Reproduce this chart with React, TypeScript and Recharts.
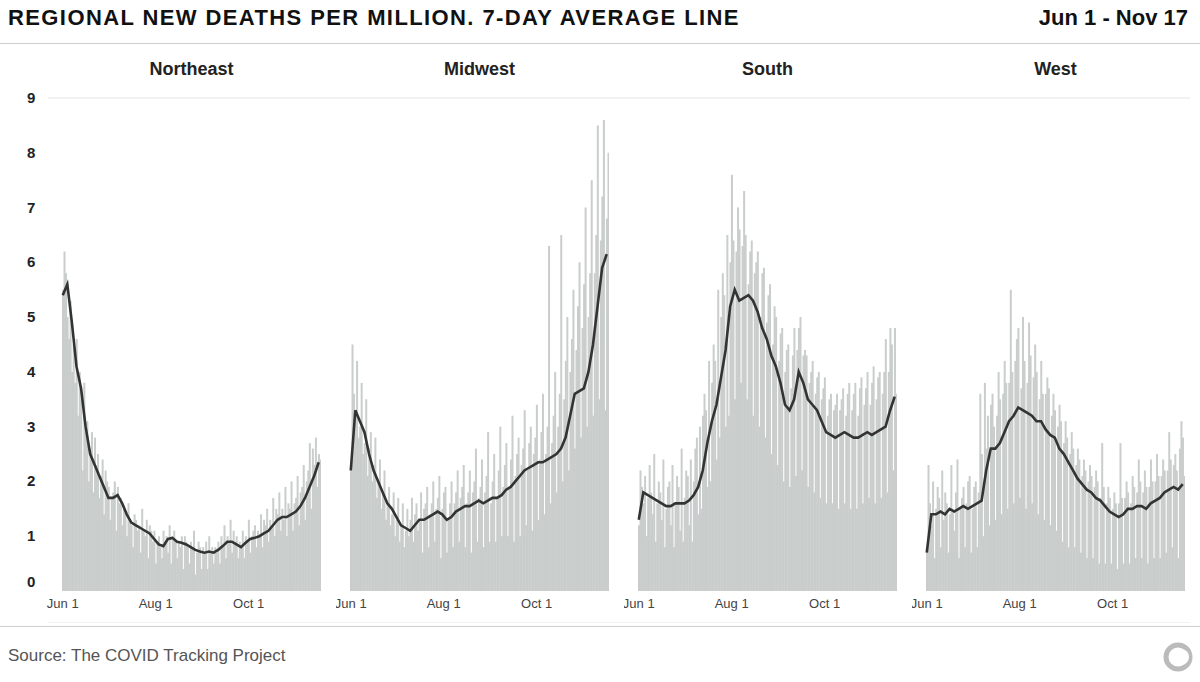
import React from "react";
import { ComposedChart, Bar, Line, XAxis, YAxis, CartesianGrid } from "recharts";

const regions = ["Northeast", "Midwest", "South", "West"];
const tickDays = [0, 61, 122];
const tickLabels = ["Jun 1", "Aug 1", "Oct 1"];
const yTicks = [0, 1, 2, 3, 4, 5, 6, 7, 8, 9];

// daily new deaths per million, Jun 1 .. Nov 17
const neDaily = [
  5.5, 6.2, 5.8, 5.0, 4.6, 5.3, 4.0, 4.5, 3.8, 4.6,
  3.2, 4.0, 3.5, 2.2, 3.8, 2.9, 3.1, 2.0, 2.6, 2.9,
  1.8, 2.8, 2.3, 2.5, 1.7, 2.1, 2.4, 1.4, 2.2, 2.0,
  1.9, 1.3, 1.7, 1.8, 2.0, 1.1, 1.9, 1.6, 1.7, 1.2,
  1.5, 1.4, 1.0, 1.6, 1.3, 1.2, 0.8, 1.4, 1.3, 1.1,
  1.2, 0.7, 1.5, 1.1, 1.0, 1.3, 0.6, 1.2, 1.1, 0.9,
  1.1, 0.5, 0.9, 1.0, 0.8, 0.6, 1.1, 0.9, 1.0, 0.7,
  1.2, 0.5, 1.0, 1.1, 0.9, 0.6, 0.9, 0.8, 1.0, 0.4,
  1.0, 0.9, 0.8, 0.5, 0.9, 0.8, 1.1, 0.3, 0.7, 0.9,
  0.8, 0.4, 0.8, 0.7, 0.9, 0.4, 1.0, 0.7, 0.8, 0.5,
  0.8, 0.7, 0.9, 0.5, 1.0, 0.8, 1.2, 0.6, 1.0, 0.9,
  1.3, 0.7, 1.1, 0.9, 1.0, 0.6, 0.9, 0.8, 1.1, 0.6,
  1.0, 0.9, 1.3, 0.7, 1.0, 1.1, 1.2, 0.8, 1.1, 1.0,
  1.4, 0.8, 1.3, 1.2, 1.5, 0.9, 1.3, 1.2, 1.7, 1.0,
  1.5, 1.4, 1.8, 1.1, 1.5, 1.3, 1.9, 1.0, 1.6, 1.5,
  2.0, 1.1, 1.6, 1.7, 2.1, 1.2, 1.8, 1.9, 2.3, 1.3,
  2.0, 2.2, 2.7, 1.5, 2.6, 2.3, 2.8, 1.9, 2.5, 2.4,
];
const mwDaily = [
  2.2, 4.5, 3.6, 3.2, 4.2, 2.8, 3.0, 3.8, 2.5, 2.7,
  3.5, 2.1, 2.6, 2.9, 2.0, 2.3, 2.8, 1.7, 2.0, 2.4,
  1.5, 1.8, 2.2, 1.3, 1.6, 1.9, 1.2, 1.4, 1.8, 1.0,
  1.3, 1.7, 0.9, 1.2, 1.6, 0.8, 1.1, 1.5, 1.0, 1.3,
  1.7, 0.9, 1.4, 1.6, 1.1, 1.3, 1.8, 0.7, 1.5, 1.6,
  1.9, 0.8, 1.4, 1.6, 2.0, 0.9, 1.5, 1.7, 2.1, 0.6,
  1.5, 1.8, 1.9, 0.7, 1.3, 1.6, 2.0, 0.8, 1.6, 1.8,
  2.2, 0.9, 1.7, 1.9, 2.3, 0.8, 1.6, 1.8, 2.2, 0.7,
  1.8, 2.0, 2.6, 0.9, 1.7, 1.9, 2.4, 0.8, 1.8, 2.1,
  2.9, 0.9, 1.6, 2.0, 2.5, 0.9, 1.7, 2.2, 3.0, 1.0,
  1.9, 2.3, 2.7, 1.0, 1.9, 2.4, 3.2, 0.9, 2.1, 2.5,
  2.8, 1.0, 2.3, 2.6, 3.3, 1.2, 2.2, 2.7, 3.0, 1.1,
  2.5, 2.8, 3.4, 1.3, 2.4, 2.9, 3.6, 1.4, 2.5, 3.0,
  6.3, 1.6, 2.7, 3.2, 4.0, 1.8, 3.0, 3.6, 6.5, 2.0,
  3.5, 4.2, 5.0, 2.2, 4.0, 4.6, 5.5, 2.6, 4.4, 5.2,
  6.0, 2.8, 4.8, 5.6, 7.0, 3.0, 5.0, 5.8, 7.5, 3.2,
  5.8, 6.5, 8.5, 3.5, 6.4, 7.2, 8.6, 3.3, 6.8, 8.0,
];
const soDaily = [
  1.2, 2.2, 1.9, 1.6, 2.1, 1.0, 1.7, 2.3, 1.8, 1.4,
  2.5, 0.9, 1.6, 2.0, 1.8, 1.3, 2.4, 0.8, 1.5, 1.9,
  2.0, 1.2, 2.3, 0.8, 1.6, 2.1, 1.9, 1.1, 2.6, 0.9,
  1.7, 2.2, 2.1, 1.2, 2.4, 0.9, 2.0, 2.6, 2.8, 1.4,
  3.0, 1.5, 3.2, 3.6, 3.3, 1.9, 4.2, 2.0, 3.8, 4.5,
  4.2, 2.4, 5.5, 2.8, 5.0, 5.8, 5.4, 3.0, 6.5, 3.2,
  6.0, 7.6, 6.4, 3.5, 6.2, 7.0, 6.6, 3.8, 6.3, 7.3,
  6.5, 3.5, 5.6, 6.2, 6.4, 3.2, 5.8, 6.0, 6.2, 3.0,
  5.0, 5.8, 5.9, 2.8, 4.9, 5.4, 5.6, 2.5, 4.5, 5.2,
  5.0, 2.3, 4.2, 4.7, 4.8, 2.0, 4.0, 4.4, 4.5, 1.9,
  3.7, 4.3, 4.8, 2.1, 4.4, 4.8, 5.0, 2.2, 4.3, 4.4,
  4.3, 1.9, 3.8, 4.0, 4.2, 1.8, 3.6, 3.9, 4.0, 1.7,
  3.5, 3.7, 3.9, 1.6, 3.2, 3.5, 3.6, 1.6, 3.3, 3.4,
  3.6, 1.5, 3.3, 3.5, 3.7, 1.6, 3.2, 3.6, 3.8, 1.5,
  3.3, 3.6, 3.8, 1.5, 3.2, 3.7, 3.9, 1.6, 3.4, 3.7,
  4.0, 1.7, 3.4, 3.8, 4.1, 1.6, 3.5, 3.9, 4.0, 1.7,
  3.6, 4.0, 4.6, 1.8, 4.0, 4.8, 4.5, 2.2, 4.8, 3.6,
];
const weDaily = [
  0.7, 2.3, 1.6, 1.2, 2.0, 0.6, 1.5, 1.9, 1.7, 0.8,
  2.2, 1.3, 1.8, 1.6, 0.7, 1.4, 2.3, 1.5, 1.1, 1.8,
  2.4, 0.6, 1.5, 1.7, 1.9, 0.8, 1.6, 2.0, 2.1, 0.7,
  1.5, 1.9, 2.0, 0.8, 1.8, 3.6, 2.5, 1.0, 3.8, 2.6,
  3.2, 1.2, 3.4, 3.6, 3.0, 1.3, 3.2, 4.0, 3.5, 1.4,
  3.6, 4.2, 3.8, 1.5, 3.8, 5.5, 4.0, 1.6, 4.2, 4.6,
  4.8, 1.7, 3.7, 5.0, 4.2, 1.5, 3.8, 4.9, 4.3, 1.6,
  3.9, 4.5, 4.0, 1.4, 3.5, 4.2, 3.6, 1.3, 3.6, 3.9,
  3.7, 1.2, 3.2, 3.6, 3.3, 1.1, 3.0, 3.4, 3.1, 0.9,
  2.7, 3.1, 2.8, 0.8, 2.5, 2.9, 2.6, 0.8, 2.3, 2.6,
  2.4, 0.7, 2.1, 2.4, 2.2, 0.6, 2.0, 2.3, 2.1, 0.6,
  1.9, 2.2, 2.0, 0.5, 1.7, 2.7, 1.9, 0.5, 1.6, 1.9,
  1.7, 0.5, 1.5, 1.8, 1.6, 0.4, 1.6, 2.7, 1.7, 0.5,
  1.7, 2.0, 1.8, 0.5, 1.6, 2.1, 1.9, 0.6, 1.8, 2.4,
  2.0, 0.6, 1.8, 2.2, 1.9, 0.5, 1.9, 2.4, 2.0, 0.6,
  2.0, 2.5, 2.1, 0.6, 2.1, 2.4, 2.2, 0.7, 2.2, 2.9,
  2.4, 0.8, 2.3, 2.5, 2.2, 0.6, 2.6, 3.1, 2.8, 2.1,
];

// 7-day average, read every 3rd day (day 0, 3, 6 ... 168)
const neAvg = [
  5.4, 5.6, 4.9, 4.1, 3.7, 3.0, 2.5, 2.3, 2.1, 1.9, 1.7, 1.7, 1.75, 1.6, 1.4,
  1.25, 1.2, 1.15, 1.1, 1.05, 0.95, 0.85, 0.82, 0.95, 0.97, 0.9, 0.88, 0.85,
  0.8, 0.75, 0.72, 0.7, 0.72, 0.7, 0.75, 0.82, 0.9, 0.9, 0.85, 0.8, 0.88, 0.95,
  0.97, 1.0, 1.05, 1.1, 1.2, 1.3, 1.35, 1.35, 1.4, 1.45, 1.55, 1.7, 1.9, 2.1, 2.35,
];
const mwAvg = [
  2.2, 3.3, 3.1, 2.9, 2.5, 2.2, 2.0, 1.8, 1.6, 1.5, 1.35, 1.2, 1.15, 1.1, 1.2,
  1.3, 1.3, 1.35, 1.4, 1.45, 1.4, 1.3, 1.35, 1.45, 1.5, 1.55, 1.55, 1.6, 1.65,
  1.6, 1.65, 1.7, 1.7, 1.75, 1.85, 1.9, 2.0, 2.1, 2.2, 2.25, 2.3, 2.35, 2.35,
  2.4, 2.45, 2.5, 2.6, 2.8, 3.2, 3.6, 3.65, 3.7, 4.0, 4.5, 5.2, 5.9, 6.15,
];
const soAvg = [
  1.3, 1.8, 1.75, 1.7, 1.65, 1.6, 1.55, 1.55, 1.6, 1.6, 1.6, 1.65, 1.75, 1.9,
  2.2, 2.7, 3.1, 3.4, 3.9, 4.4, 5.2, 5.5, 5.3, 5.35, 5.4, 5.3, 5.1, 4.8, 4.6,
  4.3, 4.1, 3.8, 3.4, 3.3, 3.5, 4.0, 3.8, 3.5, 3.4, 3.3, 3.1, 2.9, 2.85, 2.8,
  2.85, 2.9, 2.85, 2.8, 2.8, 2.85, 2.9, 2.85, 2.9, 2.95, 3.0, 3.3, 3.55,
];
const weAvg = [
  0.7, 1.4, 1.4, 1.45, 1.4, 1.5, 1.45, 1.5, 1.55, 1.5, 1.55, 1.6, 1.65, 2.2,
  2.6, 2.6, 2.7, 2.9, 3.1, 3.2, 3.35, 3.3, 3.25, 3.2, 3.1, 3.1, 2.95, 2.85, 2.8,
  2.6, 2.5, 2.35, 2.2, 2.05, 1.95, 1.85, 1.8, 1.7, 1.65, 1.55, 1.45, 1.4, 1.35,
  1.4, 1.5, 1.5, 1.55, 1.55, 1.5, 1.6, 1.65, 1.7, 1.8, 1.85, 1.9, 1.85, 1.95,
];

const dailySets = [neDaily, mwDaily, soDaily, weDaily];
const avgSets = [neAvg, mwAvg, soAvg, weAvg];

const buildRows = (daily: number[], avg: number[]) =>
  daily.map((v, i) => ({
    i,
    v,
    a: i % 3 === 0 && avg[i / 3] !== undefined ? avg[i / 3] : null,
  }));

const FONT = "'Liberation Sans', Arial, sans-serif";
const PLOT_W = 259;
const PAD = 14; // room for the first x tick label
const panelLeft = [62, 350, 638, 926];

const YTick = (props: any) => {
  const { y, payload } = props;
  const dy = payload.value === 0 ? -9 : 0;
  return (
    <text x={27} y={y + dy} dy={5} fontSize={15} fontWeight="bold" fill="#222" fontFamily={FONT}>
      {payload.value}
    </text>
  );
};

function Panel({ idx }: { idx: number }) {
  const first = idx === 0;
  const yW = first ? 62 : 0;
  const padL = first ? 0 : PAD;
  const data = buildRows(dailySets[idx], avgSets[idx]);
  return (
    <div style={{ position: "absolute", left: panelLeft[idx] - yW - padL, top: 88 }}>
      <ComposedChart
        width={PLOT_W + yW + padL}
        height={535}
        data={data}
        margin={{ top: 10, right: 0, bottom: 0, left: padL }}
        barCategoryGap={0}
      >
        <XAxis
          dataKey="i"
          type="category"
          ticks={tickDays}
          interval={0}
          tickFormatter={(v) => tickLabels[tickDays.indexOf(v)] ?? ""}
          axisLine={false}
          tickLine={false}
          height={32}
          tick={{ fontSize: 13, fill: "#444", fontFamily: FONT }}
        />
        <YAxis
          domain={[0, 9]}
          ticks={yTicks}
          width={yW}
          hide={!first}
          axisLine={false}
          tickLine={false}
          tick={<YTick />}
        />
        <Bar dataKey="v" fill="#c9cdcc" isAnimationActive={false} />
        <Line
          dataKey="a"
          type="linear"
          stroke="#333"
          strokeWidth={2.6}
          dot={false}
          connectNulls
          isAnimationActive={false}
        />
      </ComposedChart>
    </div>
  );
}

// background grid spanning the whole width
const gridRows = [{ g: 0 }, { g: 1 }];

export default function App() {
  return (
    <div
      style={{
        position: "fixed",
        left: 0,
        top: 0,
        width: 1200,
        height: 682,
        background: "#fff",
        fontFamily: FONT,
        overflow: "hidden",
      }}
    >
      <div style={{ position: "absolute", left: 8, top: 5, fontSize: 22, letterSpacing: 1.4, fontWeight: "bold", color: "#111" }}>
        REGIONAL NEW DEATHS PER MILLION. 7-DAY AVERAGE LINE
      </div>
      <div style={{ position: "absolute", right: 12, top: 5, fontSize: 22, fontWeight: "bold", color: "#111" }}>
        Jun 1 - Nov 17
      </div>
      <div style={{ position: "absolute", left: 0, right: 0, top: 43, borderTop: "1px solid #cfcfcf" }} />

      <div style={{ position: "absolute", left: 0, top: 88 }}>
        <ComposedChart width={1200} height={535} data={gridRows} margin={{ top: 10, right: 10, bottom: 0, left: 48 }}>
          <CartesianGrid vertical={false} stroke="#e4e4e4" />
          <XAxis dataKey="g" hide height={32} />
          <YAxis domain={[0, 9]} ticks={yTicks} hide />
        </ComposedChart>
      </div>

      {regions.map((r, i) => (
        <div
          key={r}
          style={{
            position: "absolute",
            left: panelLeft[i],
            width: PLOT_W,
            top: 59,
            textAlign: "center",
            fontSize: 18,
            fontWeight: "bold",
            color: "#222",
          }}
        >
          {r}
        </div>
      ))}
      {regions.map((r, i) => (
        <Panel key={r} idx={i} />
      ))}

      <div style={{ position: "absolute", left: 0, right: 0, top: 626, borderTop: "1px solid #cfcfcf" }} />
      <div style={{ position: "absolute", left: 8, top: 646, fontSize: 17, color: "#555" }}>
        Source: The COVID Tracking Project
      </div>
      <svg style={{ position: "absolute", left: 1162, top: 641 }} width={32} height={32}>
        <circle cx={16} cy={16} r={12} fill="none" stroke="#bbb" strokeWidth={5} />
        <circle cx={19} cy={16} r={8} fill="#fff" />
      </svg>
    </div>
  );
}
